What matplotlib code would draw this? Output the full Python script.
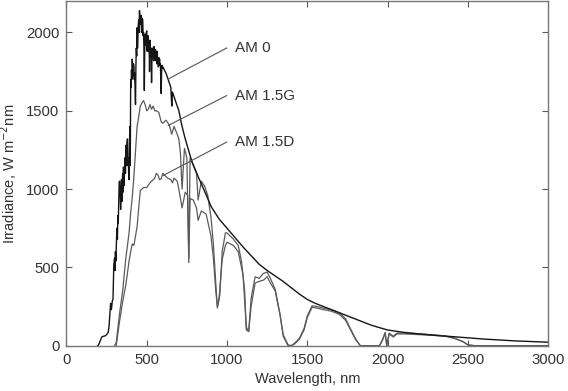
import matplotlib
matplotlib.use("Agg")
import matplotlib.pyplot as plt

plt.rcParams['font.family'] = ['Liberation Sans', 'DejaVu Sans']

# extraterrestrial spectrum (AM 0)
am0_wl = [195, 200, 210, 220, 230, 240, 250, 260, 265, 270, 275, 280, 285, 290, 295,
          300, 302.5, 305, 307.5, 310, 312.5, 315, 317.5, 320, 322.5, 325, 327.5, 330, 332.5,
          335, 337.5, 340, 342.5, 345, 347.5, 350, 352.5, 355, 357.5, 360, 362.5, 365, 367.5,
          370, 372.5, 375, 377.5, 380, 382.5, 385, 387.5, 390, 392.5, 395, 397.5, 400, 402.5,
          405, 407.5, 410, 412.5, 415, 417.5, 420, 422.5, 425, 427.5, 430, 432.5, 435, 437.5,
          440, 442.5, 445, 447.5, 450, 452.5, 455, 457.5, 460, 462.5, 465, 467.5, 470, 472.5,
          475, 477.5, 480, 482.5, 485, 487.5, 490, 492.5, 495, 497.5, 500, 502.5, 505, 507.5,
          510, 512.5, 515, 517.5, 520, 522.5, 525, 527.5, 530, 532.5, 535, 537.5, 540, 542.5,
          545, 547.5, 550, 552.5, 555, 557.5, 560, 562.5, 565, 567.5, 570, 572.5, 575, 577.5,
          580, 582.5, 585, 587.5, 590, 592.5, 595, 597.5, 600,
          610, 620, 630, 640, 650, 656, 660, 670, 680, 690, 700, 720, 740, 760,
          780, 800, 820, 850, 880, 900, 950, 1000, 1050, 1100, 1150, 1200, 1250, 1300,
          1350, 1400, 1450, 1500, 1550, 1600, 1650, 1700, 1750, 1800, 1850, 1900, 1950,
          2000, 2100, 2200, 2300, 2400, 2500, 2600, 2700, 2800, 2900, 3000]
am0_irr = [0, 5, 30, 55, 60, 62, 70, 85, 120, 200, 270, 230, 280, 300, 520,
           560, 480, 600, 540, 620, 700, 750, 680, 830, 780, 900, 1000, 1050, 980,
           960, 870, 1000, 1060, 920, 1040, 1100, 980, 1140, 1020, 1050, 1150, 1200, 1100,
           1280, 1180, 1150, 1300, 1320, 1150, 1200, 1100, 1060, 1300, 1400, 1150, 1700, 1650,
           1760, 1700, 1830, 1750, 1720, 1800, 1780, 1700, 1740, 1640, 1540, 1780, 1900, 1850,
           2030, 1900, 1960, 2050, 2080, 2000, 2140, 2050, 2060, 2100, 2110, 2000, 2050, 2090,
           2080, 1980, 2000, 1900, 1630, 1900, 1990, 1920, 1960, 2000, 2010, 1880, 1930, 1980,
           1970, 1880, 1920, 1750, 1950, 1880, 1850, 1900, 1680, 1850, 1900, 1860, 1880, 1820,
           1910, 1850, 1860, 1820, 1890, 1830, 1850, 1800, 1880, 1830, 1820, 1780, 1840, 1800,
           1830, 1790, 1800, 1700, 1610, 1750, 1790, 1770, 1780,
           1760, 1740, 1710, 1680, 1650, 1530, 1620, 1590, 1560, 1530, 1500, 1400, 1320, 1250,
           1180, 1130, 1080, 1010, 940, 890, 810, 750, 690, 630, 575, 520, 480, 445,
           410, 370, 330, 295, 270, 250, 230, 210, 190, 170, 150, 130, 115,
           100, 85, 75, 65, 58, 50, 42, 36, 30, 26, 22]

# global tilt (AM 1.5G)
g_wl = [300, 310, 330, 350, 370, 390, 400, 410, 420, 430, 440, 450, 460, 470, 480,
        490, 500, 510, 520, 530, 540, 550, 560, 575, 590, 600, 620, 640, 656, 670,
        690, 700, 710, 720, 735, 750, 762, 770, 790, 810, 820, 840, 860, 880, 900,
        915, 930, 940, 955, 970, 990, 1000, 1040, 1070, 1090, 1110, 1120, 1135, 1150, 1175,
        1200, 1225, 1250, 1270, 1300, 1330, 1350, 1380, 1400, 1420, 1450, 1480, 1500, 1530, 1560,
        1600, 1650, 1700, 1740, 1770, 1800, 1830, 1950, 1970, 1985, 1995, 2010, 2035, 2060, 2100,
        2200, 2300, 2360, 2420, 2470, 2500, 2540, 3000]
g_irr = [0, 20, 200, 350, 560, 720, 850, 950, 1080, 1240, 1400, 1460, 1530, 1550, 1565,
         1540, 1500, 1510, 1540, 1510, 1530, 1500, 1500, 1490, 1430, 1420, 1440, 1410, 1350, 1400,
         1350, 1320, 1230, 1000, 1260, 1200, 530, 1200, 1150, 1100, 930, 1050, 1020, 960, 820,
         650, 400, 240, 320, 600, 720, 720, 680, 640, 540, 350, 100, 90, 300, 440,
         430, 460, 470, 430, 360, 200, 70, 5, 0, 15, 45, 110, 190, 255, 250,
         240, 230, 210, 170, 105, 45, 0, 0, 40, 85, 0, 80, 60, 80, 80,
         75, 68, 62, 47, 26, 5, 0, 0]

# direct + circumsolar (AM 1.5D)
d_wl = [310, 330, 350, 370, 390, 400, 410, 420, 430, 440, 450, 460, 470, 480, 500,
        520, 530, 550, 560, 570, 580, 590, 600, 610, 620, 630, 650, 660, 670, 690,
        700, 720, 740, 755, 762, 770, 790, 810, 820, 840, 870, 900, 915, 930, 940,
        950, 970, 990, 1000, 1040, 1070, 1100, 1120, 1135, 1150, 1175, 1200, 1230, 1250, 1270,
        1300, 1330, 1350, 1380, 1400, 1420, 1450, 1480, 1500, 1530, 1560, 1600, 1650, 1700, 1740,
        1770, 1800, 1830, 1950, 1970, 1985, 1995, 2010, 2035, 2060, 2100, 2200, 2300, 2360, 2420,
        2470, 2500, 2540, 3000]
d_irr = [0, 150, 280, 390, 540, 600, 650, 640, 700, 760, 880, 990, 1000, 1010, 1010,
         1040, 1050, 1070, 1100, 1090, 1060, 1065, 1100, 1090, 1080, 1070, 1060, 1040, 1070, 1050,
         1000, 880, 980, 960, 560, 940, 930, 880, 800, 860, 840, 700, 560, 350, 250,
         300, 550, 640, 660, 640, 600, 450, 120, 90, 250, 400, 410, 420, 440, 400,
         350, 200, 60, 0, 0, 10, 40, 100, 180, 245, 240, 230, 220, 200, 160,
         100, 40, 0, 0, 40, 80, 0, 75, 55, 75, 75, 70, 65, 60, 45,
         25, 5, 0, 0]

fig, ax = plt.subplots(figsize=(5.68, 3.91), dpi=100)
fig.subplots_adjust(left=0.117, right=0.965, bottom=0.116, top=0.997)

ax.plot(g_wl, g_irr, color='#5a5a5a', lw=0.9)
ax.plot(d_wl, d_irr, color='#5a5a5a', lw=0.9)
ax.plot(am0_wl, am0_irr, color='#151515', lw=1.0)

# labels with leader lines
ax.plot([634, 998], [1703, 1901], color='#555555', lw=0.8)
ax.plot([634, 998], [1406, 1597], color='#555555', lw=0.8)
ax.plot([603, 998], [1087, 1300], color='#555555', lw=0.8)
ax.text(1050, 1901, 'AM 0', fontsize=11, color='#333333', va='center')
ax.text(1050, 1597, 'AM 1.5G', fontsize=11, color='#333333', va='center')
ax.text(1050, 1300, 'AM 1.5D', fontsize=11, color='#333333', va='center')

ax.set_xlim(0, 3000)
ax.set_ylim(0, 2200)
ax.set_xticks([0, 500, 1000, 1500, 2000, 2500, 3000])
ax.set_yticks([0, 500, 1000, 1500, 2000])
ax.tick_params(direction='in', top=True, right=True, length=4, width=0.8,
               color='#555555', labelcolor='#333333', labelsize=10.7, pad=5)
for s in ax.spines.values():
    s.set_color('#777777')
    s.set_linewidth(1.0)

ax.set_xlabel('Wavelength, nm', fontsize=10.5, color='#333333', labelpad=4)
ax.set_ylabel('Irradiance, W m$^{-2}$nm', fontsize=10.5, color='#333333', labelpad=5)

fig.savefig('out.png', dpi=100)
